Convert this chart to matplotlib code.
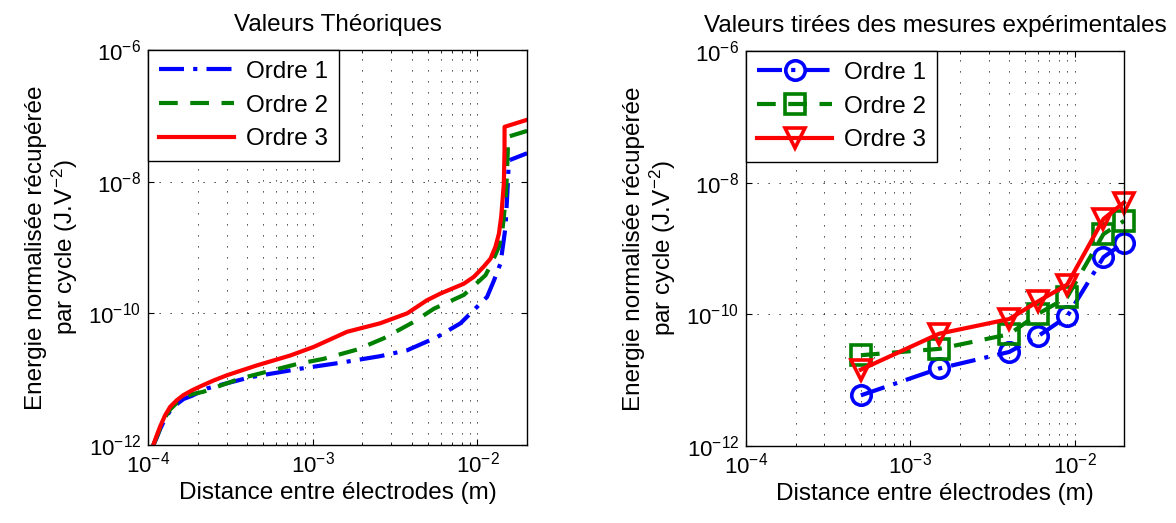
import numpy as np
import matplotlib
matplotlib.use("Agg")
from matplotlib import pyplot as plt
from matplotlib.ticker import FixedLocator, NullLocator, NullFormatter, LogFormatterSciNotation

plt.rcParams['font.family'] = ['Liberation Sans', 'DejaVu Sans']
plt.rcParams['mathtext.fontset'] = 'custom'
plt.rcParams['mathtext.rm'] = 'Liberation Sans'
plt.rcParams['mathtext.it'] = 'Liberation Sans:italic'
plt.rcParams['mathtext.bf'] = 'Liberation Sans:bold'

# theoretical curves (left)
x_th1 = [1.076e-4, 1.119e-4, 1.183e-4, 1.268e-4, 1.361e-4, 1.493e-4, 1.641e-4, 1.845e-4,
         2.28e-4, 4.17e-4, 8.39e-4, 1.469e-3, 2.57e-3, 3.74e-3, 5.69e-3, 7.89e-3,
         1.143e-2, 1.259e-2, 1.380e-2, 1.479e-2, 1.528e-2, 1.549e-2, 2.0e-2]
y_th1 = [1e-12, 1.23e-12, 1.74e-12, 2.51e-12, 3.31e-12, 4.17e-12, 5.0e-12, 5.6e-12,
         7.24e-12, 1.072e-11, 1.445e-11, 1.778e-11, 2.24e-11, 2.75e-11, 4.37e-11, 7.08e-11,
         1.778e-10, 3.16e-10, 5.75e-10, 2.04e-9, 9.3e-9, 2.1e-8, 2.7e-8]

x_th2 = [1.076e-4, 1.119e-4, 1.183e-4, 1.268e-4, 1.361e-4, 1.493e-4, 1.641e-4, 1.845e-4,
         2.17e-4, 3.62e-4, 8.02e-4, 1.164e-3, 1.858e-3, 2.69e-3, 4.10e-3, 5.43e-3,
         8.26e-3, 1.119e-2, 1.227e-2, 1.349e-2, 1.413e-2, 1.445e-2, 1.479e-2, 1.50e-2,
         1.528e-2, 1.53e-2, 2.0e-2]
y_th2 = [1e-12, 1.26e-12, 1.78e-12, 2.63e-12, 3.47e-12, 4.37e-12, 5.25e-12, 5.9e-12,
         6.46e-12, 1.023e-11, 1.70e-11, 2.04e-11, 2.82e-11, 4.17e-11, 7.41e-11, 1.175e-10,
         1.905e-10, 3.80e-10, 6.0e-10, 1.023e-9, 1.74e-9, 2.95e-9, 5.25e-9, 9.3e-9,
         3.0e-8, 4.8e-8, 5.9e-8]

x_th3 = [1.076e-4, 1.119e-4, 1.183e-4, 1.268e-4, 1.361e-4, 1.493e-4, 1.641e-4, 1.845e-4,
         2.07e-4, 2.495e-4, 3.01e-4, 4.58e-4, 7.29e-4, 1.012e-3, 1.614e-3, 2.57e-3,
         3.74e-3, 4.94e-3, 5.96e-3, 8.26e-3, 9.51e-3, 1.091e-2, 1.199e-2, 1.285e-2,
         1.349e-2, 1.393e-2, 1.419e-2, 1.445e-2, 1.459e-2, 1.46e-2, 2.0e-2]
y_th3 = [1e-12, 1.318e-12, 1.905e-12, 2.818e-12, 3.80e-12, 4.786e-12, 5.75e-12, 6.761e-12,
         7.76e-12, 9.55e-12, 1.148e-11, 1.622e-11, 2.29e-11, 3.09e-11, 5.25e-11, 7.08e-11,
         1.0e-10, 1.585e-10, 2.0e-10, 2.82e-10, 3.59e-10, 5.13e-10, 6.76e-10, 1.023e-9,
         1.622e-9, 2.95e-9, 5.25e-9, 9.3e-9, 3.0e-8, 6.8e-8, 8.7e-8]

# experimental values (right)
x_exp = [5e-4, 1.5e-3, 4e-3, 6e-3, 9e-3, 1.5e-2, 2e-2]
y_exp1 = [5.9e-12, 1.51e-11, 2.69e-11, 4.68e-11, 9.3e-11, 7.4e-10, 1.23e-9]
y_exp2 = [2.4e-11, 3.0e-11, 5.0e-11, 1.02e-10, 1.82e-10, 1.66e-9, 2.63e-9]
y_exp3 = [1.45e-11, 5.1e-11, 8.5e-11, 1.58e-10, 2.82e-10, 2.82e-9, 5.0e-9]

# axis ticks
x_major = [1e-4, 1e-3, 1e-2]
x_minor = [m * d for d in (1e-4, 1e-3) for m in range(2, 10)] + [2e-2]
y_major = [1e-12, 1e-10, 1e-8, 1e-6]

labels = ['Ordre 1', 'Ordre 2', 'Ordre 3']
green = '#008000'
dashdot = (0, (6, 2.2, 1, 2.2))
dashed = (0, (4.5, 3))

fig = plt.figure(figsize=(11.76, 5.23), dpi=100)
ax1 = fig.add_axes([0.1259, 0.149, 0.3223, 0.7555])
ax2 = fig.add_axes([0.6344, 0.147, 0.3214, 0.7555])

ax1.plot(x_th1, y_th1, color='b', ls=dashdot, lw=3, label=labels[0])
ax1.plot(x_th2, y_th2, color=green, ls=dashed, lw=3, label=labels[1])
ax1.plot(x_th3, y_th3, color='r', ls='-', lw=3, label=labels[2])

mk = dict(ms=14, mew=2.6, mfc='none', clip_on=False)
ax2.plot(x_exp, y_exp1, color='b', ls=dashdot, lw=3, marker='o', label=labels[0], **mk)
ax2.plot(x_exp, y_exp2, color=green, ls=dashed, lw=3, marker='s', label=labels[1], **mk)
ax2.plot(x_exp, y_exp3, color='r', ls='-', lw=3, marker='v', label=labels[2], **mk)

for ax in (ax1, ax2):
    ax.set_xscale('log')
    ax.set_yscale('log')
    ax.set_xlim(1e-4, 2e-2)
    ax.set_ylim(1e-12, 1e-6)
    ax.xaxis.set_major_locator(FixedLocator(x_major))
    ax.xaxis.set_minor_locator(FixedLocator(x_minor))
    ax.xaxis.set_major_formatter(LogFormatterSciNotation(base=10))
    ax.xaxis.set_minor_formatter(NullFormatter())
    ax.yaxis.set_major_locator(FixedLocator(y_major))
    ax.yaxis.set_minor_locator(NullLocator())
    ax.yaxis.set_major_formatter(LogFormatterSciNotation(base=10))
    ax.tick_params(which='both', direction='in', top=True, right=True, labelsize=16)
    ax.tick_params(which='major', length=4, width=0.8, pad=5)
    ax.tick_params(which='minor', length=2.5, width=0.6)
    ax.grid(True, which='major', color='k', ls=(0, (1.5, 11.7)), lw=0.6)
    ax.grid(True, which='minor', axis='x', color='k', ls=(0, (1.5, 11.7)), lw=0.6)
    for s in ax.spines.values():
        s.set_linewidth(1.0)
    ax.set_xlabel('Distance entre électrodes (m)', fontsize=17.5, labelpad=3)
    ax.set_ylabel('Energie normalisée récupérée\npar cycle (J.V$^{-2}$)', fontsize=17.5,
                  labelpad=6, linespacing=1.1)
    leg = ax.legend(loc='upper left', fontsize=17.5, handlelength=3.1, borderaxespad=0,
                    labelspacing=0.48, handletextpad=0.5, borderpad=0.45, fancybox=False,
                    framealpha=1, edgecolor='k')
    leg.get_frame().set_linewidth(1.0)

ax1.set_title('Valeurs Théoriques', fontsize=17.5, pad=14)
ax2.set_title('Valeurs tirées des mesures expérimentales', fontsize=17.5, pad=14)

fig.savefig('out.png', dpi=100)
